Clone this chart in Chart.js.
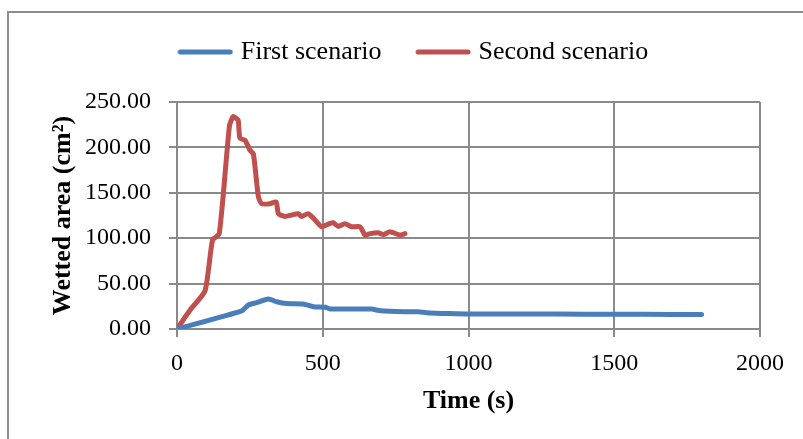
<!DOCTYPE html>
<html>
<head>
<meta charset="utf-8">
<script src="https://cdn.jsdelivr.net/npm/chart.js@4.4.0/dist/chart.umd.min.js"></script>
<style>
  html, body { margin: 0; padding: 0; background: #fff; }
  #wrap { width: 803px; height: 439px; position: relative; }
</style>
</head>
<body>
<div id="wrap"><canvas id="wetChart" width="803" height="439"></canvas></div>
<script>
// wetted area over time for the two scenarios
var firstTime = [0, 222, 245, 273, 313, 342, 376, 433, 468, 508, 525, 668, 691, 777, 828, 856, 936, 1000, 1200, 1400, 1600, 1800];
var firstArea = [0, 20, 26.4, 29, 33, 30, 28, 27.5, 24.6, 24, 22, 22, 20.5, 19, 19, 18, 17, 16.5, 16.5, 16.3, 16.2, 16];

var secondTime = [0, 45, 96, 122, 145, 180, 193, 203, 210, 216, 233, 250, 262, 279, 290, 319, 340, 348, 370, 393, 416, 427, 450, 468, 496, 519, 536, 553, 576, 599, 628, 645, 662, 690, 708, 730, 765, 782];
var secondArea = [0, 21, 42, 98, 105, 224, 234, 232, 230, 210, 208, 197, 193, 146, 138, 138, 140, 127, 124, 125.5, 127, 124, 127, 122, 112.6, 115.6, 117, 113, 116, 112.6, 112.6, 103.5, 105, 106, 104, 107, 103.5, 105];

var xTicks = [0, 500, 1000, 1500, 2000];
var yTicks = [0, 50, 100, 150, 200, 250];

function toPoints(xs, ys){
  return xs.map(function(x, i){ return {x: x, y: ys[i]} });
}

// short thick line used as the legend swatch
function swatch(color){
  const c = document.createElement('canvas');
  c.width = 56;
  c.height = 6;
  const g = c.getContext('2d');
  g.strokeStyle = color;
  g.lineWidth = 5;
  g.lineCap = 'round';
  g.beginPath();
  g.moveTo(3, 3);
  g.lineTo(53, 3);
  g.stroke();
  return c;
}

var serif = "'Liberation Serif', 'Times New Roman', serif";
var gridColor = '#8a8a8a';
var blue = '#4a7ebb';
var red = '#c0504d';

// grey frame round the chart
var frame = {
  id: 'frame',
  beforeDraw(chart){
    const ctx = chart.ctx;
    ctx.save();
    ctx.fillStyle = '#fff';
    ctx.fillRect(0, 0, chart.width, chart.height);
    ctx.strokeStyle = '#8c8c8c';
    ctx.lineWidth = 2;
    ctx.strokeRect(8, 12, chart.width + 20, chart.height + 20);
    ctx.restore();
  }
}

// keep a fixed band for the legend above the plot
var legendBand = {
  id: 'legendBand',
  beforeLayout(chart){
    const lg = chart.legend;
    if (lg && !lg._banded) {
      const baseFit = Object.getPrototypeOf(lg).fit;
      lg.fit = function(){ baseFit.call(this); this.height = 102 };
      lg._banded = true;
    }
  }
}

new Chart(document.getElementById('wetChart'), {
  type: 'line',
  data: {
    datasets: [{
      label: 'First scenario',
      data: toPoints(firstTime, firstArea),
      borderColor: blue,
      backgroundColor: blue,
      borderWidth: 5,
      borderCapStyle: 'round',
      borderJoinStyle: 'round',
      pointRadius: 0,
      pointStyle: swatch(blue),
      tension: 0.2
    }, {
      label: 'Second scenario',
      data: toPoints(secondTime, secondArea),
      borderColor: red,
      backgroundColor: red,
      borderWidth: 5,
      borderCapStyle: 'round',
      borderJoinStyle: 'round',
      pointRadius: 0,
      pointStyle: swatch(red),
      tension: 0.2
    }]
  },
  options: {
    responsive: false,
    animation: false,
    layout: { padding: { left: 28, top: 0, right: 0, bottom: 0 } },
    plugins: {
      tooltip: { enabled: false },
      legend: {
        position: 'top',
        labels: {
          usePointStyle: true,
          pointStyleWidth: 45,
          padding: 39,
          color: '#000',
          font: { family: serif, size: 26 }
        }
      }
    },
    scales: {
      x: {
        type: 'linear',
        min: 0,
        max: 2000,
        afterBuildTicks(scale){ scale.ticks = xTicks.map(function(v){ return {value: v} }) },
        afterFit(scale){ scale.height = 110; scale.paddingRight = 43 },
        border: { display: true, color: gridColor, width: 2 },
        grid: { color: gridColor, lineWidth: 2, tickLength: 8 },
        ticks: {
          color: '#000',
          padding: 12,
          maxRotation: 0,
          font: { family: serif, size: 24 },
          callback: function(v){ return String(v) }
        },
        title: {
          display: true,
          text: 'Time (s)',
          color: '#000',
          padding: { top: 0, bottom: 22 },
          font: { family: serif, size: 26, weight: 'bold' }
        }
      },
      y: {
        min: 0,
        max: 250,
        afterBuildTicks(scale){ scale.ticks = yTicks.map(function(v){ return {value: v} }) },
        afterFit(scale){ scale.width = 149 },
        border: { display: true, color: gridColor, width: 2 },
        grid: { color: gridColor, lineWidth: 2, tickLength: 8 },
        ticks: {
          color: '#000',
          padding: 18,
          font: { family: serif, size: 24 },
          callback: function(v){ return v.toFixed(2) }
        },
        title: {
          display: true,
          text: 'Wetted area (cm²)',
          color: '#000',
          padding: { top: 20, bottom: 0 },
          font: { family: serif, size: 26, weight: 'bold' }
        }
      }
    }
  },
  plugins: [frame, legendBand]
});
</script>
</body>
</html>
